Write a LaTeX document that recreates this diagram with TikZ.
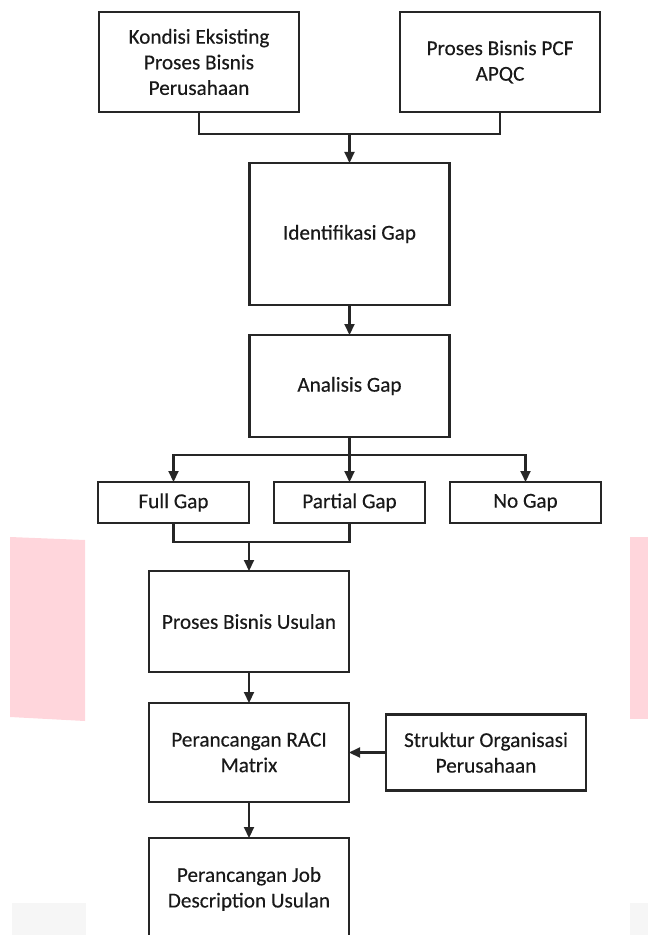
\documentclass[tikz,border=0pt]{standalone}
\usepackage{fontspec}
\setmainfont[FakeBold=0.3]{Carlito}
\usetikzlibrary{positioning,calc,arrows.meta}
\definecolor{wmpink}{RGB}{255,214,220}
\definecolor{wmgray}{RGB}{246,246,246}
\tikzset{
  box/.style={rectangle, minimum width=100pt, minimum height=50pt, text centered, align=center, draw=black!85, line width=1.05pt, inner sep=2pt, outer sep=0pt},
  gapbox/.style={box, minimum width=75.5pt, minimum height=20.5pt},
  link/.style={draw=black!85, line width=1.05pt},
  arr/.style={-{Triangle[length=5.5pt,width=5pt]}},
  node distance=15pt
}
\begin{document}
\begin{tikzpicture}[x=0.5pt, y=-0.5pt, font=\fontsize{10.6}{12.8}\selectfont, text=black!90]
	\useasboundingbox (0,0) rectangle (648,935);
	\fill[wmpink] (10,537) -- (85,540) -- (85,721) -- (10,717) -- cycle;
	\fill[wmpink] (630,537) rectangle (648,719);
	\fill[wmgray] (12,903) rectangle (86,935);
	\fill[wmgray] (630,903) rectangle (648,935);
	%
	\node[box] (kondisi) at (199,62) {Kondisi Eksisting\\Proses Bisnis\\Perusahaan};
	\node[box, right=50.5pt of kondisi] (pcf) {Proses Bisnis PCF\\APQC};
	\node[box, minimum height=71pt, below=25.5pt of $(kondisi.south)!0.5!(pcf.south)$] (ident) {Identifikasi Gap};
	\node[box, minimum height=51pt, below=15pt of ident] (analisis) {Analisis Gap};
	\node[gapbox, below=22.5pt of analisis] (partial) {Partial Gap};
	\node[gapbox, left=12.5pt of partial] (full) {Full Gap};
	\node[gapbox, right=12.5pt of partial] (nogap) {No Gap};
	\node[box, minimum height=50.5pt, below=24pt of full.south east] (usulan) {Proses Bisnis Usulan};
	\node[box, minimum height=49.5pt, below=15.5pt of usulan] (raci) {Perancangan RACI\\Matrix};
	\node[box, minimum height=38pt, right=18.5pt of raci] (struktur) {Struktur Organisasi\\Perusahaan};
	\node[box, minimum height=51pt, below=18pt of raci] (job) {Perancangan Job\\Description Usulan};
	%
	\coordinate (topjoin) at ($(ident.north)+(0,-29)$);
	\coordinate (split) at ($(analisis.south)+(0,18)$);
	\coordinate (lowjoin) at ($(usulan.north)+(0,-29)$);
	\draw[link] (kondisi.south) |- (topjoin) -| (pcf.south);
	\draw[link, arr] (topjoin) -- (ident.north);
	\draw[link, arr] (ident) -- (analisis);
	\draw[link] (analisis) -- (split);
	\draw[link, arr] (split) -| (full.north);
	\draw[link, arr] (split) -- (partial.north);
	\draw[link, arr] (split) -| (nogap.north);
	\draw[link] (full.south) |- (lowjoin) -| (partial.south);
	\draw[link, arr] (lowjoin) -- (usulan.north);
	\draw[link, arr] (usulan) -- (raci);
	\draw[link, arr] (struktur.west) -- (struktur.west -| raci.east);
	\draw[link, arr] (raci) -- (job);
\end{tikzpicture}
\end{document}
